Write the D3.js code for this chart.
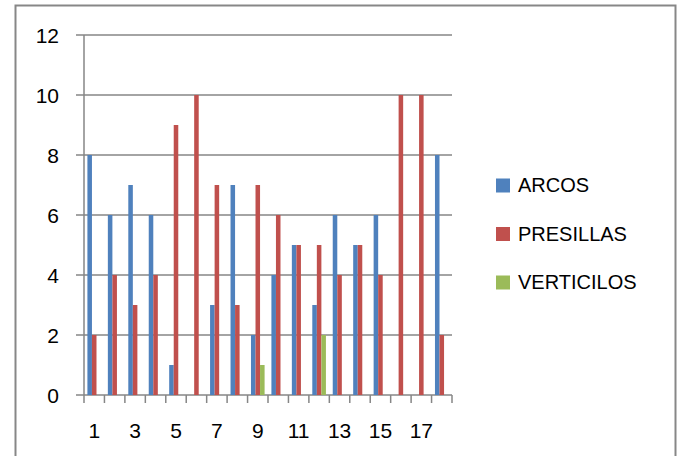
<!DOCTYPE html>
<html>
<head>
  <meta charset="utf-8">
  <script src="https://d3js.org/d3.v7.min.js"></script>
  <style>
    body { margin: 0; background: #fff; }
    text { font-family: "Liberation Sans", Arial, sans-serif; fill: #000; }
  </style>
</head>
<body>
  <script type="text/javascript">
    // Chart data
    var categories = ["1","2","3","4","5","6","7","8","9","10","11","12","13","14","15","16","17","18"];
    var seriesNames = ["ARCOS", "PRESILLAS", "VERTICILOS"];
    var arcos      = [8, 6, 7, 6, 1, 0, 3, 7, 2, 4, 5, 3, 6, 5, 6, 0, 0, 8];
    var presillas  = [2, 4, 3, 4, 9, 10, 7, 3, 7, 6, 5, 5, 4, 5, 4, 10, 10, 2];
    var verticilos = [0, 0, 0, 0, 0, 0, 0, 0, 1, 0, 0, 2, 0, 0, 0, 0, 0, 0];
    var yTicks = [0, 2, 4, 6, 8, 10, 12];
    var xTickLabels = ["1","3","5","7","9","11","13","15","17"];
    var colors = ["#4F81BD", "#C0504D", "#9BBB59"];

    var width = 678, height = 456;
    var plot = { left: 84, right: 452, top: 35, bottom: 395 };

    var svg = d3.select("body").append("svg")
      .attr("width", width)
      .attr("height", height);

    // Outer frame (bottom edge runs off the picture)
    svg.append("rect")
      .attr("x", 15.5).attr("y", 5.5)
      .attr("width", 660).attr("height", 470)
      .attr("fill", "none")
      .attr("stroke", "#878787")
      .attr("stroke-width", 2);

    // one band per category, bars take 3 of 4.5 bar widths (gap width 150%)
    var xBand = d3.scaleBand().domain(categories).range([plot.left, plot.right]);
    var y = d3.scaleLinear().domain([0, 12]).range([plot.bottom, plot.top]);

    // Gridlines
    svg.append("g")
      .selectAll("line")
      .data(yTicks)
      .enter()
      .append("line")
      .attr("x1", plot.left - 8)
      .attr("x2", plot.right)
      .attr("y1", function(d) { return y(d); })
      .attr("y2", function(d) { return y(d); })
      .attr("stroke", "#868686")
      .attr("stroke-width", 1.5);

    // Y labels
    svg.append("g")
      .selectAll("text")
      .data(yTicks)
      .enter()
      .append("text")
      .attr("x", 59)
      .attr("y", function(d) { return y(d); })
      .attr("dy", "0.36em")
      .attr("text-anchor", "end")
      .style("font-size", "21px")
      .text(function(d) { return d; });

    // Bars
    var seriesData = [arcos, presillas, verticilos];
    var barW = xBand.bandwidth() / 4.5;
    seriesData.forEach(function(values, s) {
      svg.append("g")
        .selectAll("rect")
        .data(values)
        .enter()
        .append("rect")
        .attr("x", function(d, i) { return xBand(categories[i]) + barW * 0.75 + s * barW; })
        .attr("y", function(d) { return y(d); })
        .attr("width", barW)
        .attr("height", function(d) { return plot.bottom - y(d); })
        .attr("fill", colors[s]);
    });

    // Y axis line
    svg.append("line")
      .attr("x1", plot.left).attr("x2", plot.left)
      .attr("y1", plot.top).attr("y2", plot.bottom)
      .attr("stroke", "#868686").attr("stroke-width", 1.5);

    // X axis ticks
    var tickPos = categories.map(function(c) { return xBand(c); }).concat([plot.right]);
    svg.append("g")
      .selectAll("line")
      .data(tickPos)
      .enter()
      .append("line")
      .attr("x1", function(d) { return d; })
      .attr("x2", function(d) { return d; })
      .attr("y1", plot.bottom)
      .attr("y2", plot.bottom + 8)
      .attr("stroke", "#868686")
      .attr("stroke-width", 1.5);

    // X labels
    svg.append("g")
      .selectAll("text")
      .data(xTickLabels)
      .enter()
      .append("text")
      .attr("x", function(d) { return xBand(d) + xBand.bandwidth() / 2; })
      .attr("y", 438)
      .attr("text-anchor", "middle")
      .style("font-size", "21px")
      .text(function(d) { return d; });

    // Legend
    var legend = svg.append("g")
      .selectAll("g")
      .data(seriesNames)
      .enter()
      .append("g")
      .attr("transform", function(d, i) { return "translate(496," + (185 + i * 48.5) + ")"; });
    legend.append("rect")
      .attr("x", 0).attr("y", -6.5)
      .attr("width", 14).attr("height", 14)
      .attr("fill", function(d, i) { return colors[i]; });
    legend.append("text")
      .attr("x", 22)
      .attr("y", 0)
      .attr("dy", "0.36em")
      .style("font-size", "20px")
      .text(function(d) { return d; });
  </script>
</body>
</html>
